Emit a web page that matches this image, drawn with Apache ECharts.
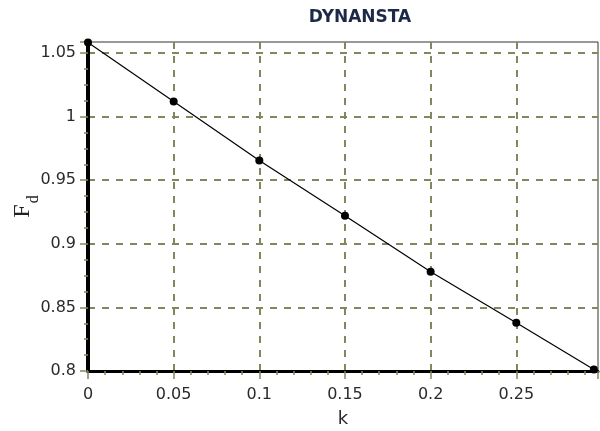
<!DOCTYPE html>
<html>
<head>
<meta charset="utf-8">
<script src="https://cdn.jsdelivr.net/npm/echarts@6/dist/echarts.min.js"></script>
<style>
  html, body { margin: 0; padding: 0; background: #fff; }
  #chart { width: 600px; height: 431px; }
</style>
</head>
<body>
<div id="chart"></div>
<script>
// Dynamic stability factor F_d against k
const kValues = [0, 0.05, 0.1, 0.15, 0.2, 0.25, 0.2953];
const fdValues = [1.0584, 1.012, 0.9655, 0.922, 0.878, 0.838, 0.8011];
const xTicks = [0, 0.05, 0.1, 0.15, 0.2, 0.25];
const yTicks = [0.8, 0.85, 0.9, 0.95, 1, 1.05];

const gridColor = '#86865e';
const labelColor = '#2a2a2a';

const chart = echarts.init(document.getElementById('chart'), null, { renderer: 'canvas' });

chart.setOption({
  animation: false,
  title: {
    text: 'DYNANSTA',
    left: 355,
    textAlign: 'center',
    top: 4,
    textStyle: { fontFamily: 'DejaVu Sans', fontWeight: 'bold', fontSize: 17, color: '#1c2a48' }
  },
  grid: {
    left: 88, right: 2, top: 42, bottom: 60,
    outerBoundsMode: 'none',
    containLabel: false,
    show: true, borderColor: '#333', borderWidth: 1, backgroundColor: 'transparent'
  },
  xAxis: {
    type: 'value',
    min: 0,
    max: 0.2977,
    interval: 0.05,
    name: 'k',
    nameLocation: 'middle',
    nameGap: 39,
    nameMoveOverlap: false,
    nameTextStyle: { fontFamily: 'DejaVu Sans', fontSize: 18, color: labelColor },
    axisLine: { show: true, onZero: false, lineStyle: { color: '#000', width: 3 } },
    axisTick: { show: true, length: 8, lineStyle: { color: gridColor, width: 1.5 } },
    minorTick: { show: true, splitNumber: 5, length: 4, lineStyle: { color: gridColor, width: 1.5 } },
    axisLabel: {
      margin: 16, showMaxLabel: false,
      fontFamily: 'DejaVu Sans', fontSize: 16, color: labelColor,
      formatter: v => xTicks.some(t => Math.abs(t - v) < 1e-9) ? String(+v.toFixed(4)) : ''
    },
    splitLine: { show: true, showMaxLine: false, lineStyle: { color: gridColor, width: 2, type: [7, 7] } }
  },
  yAxis: {
    type: 'value',
    min: 0.8,
    max: 1.0587,
    interval: 0.05,
    name: '{f|F}{d|d}',
    nameLocation: 'middle',
    nameRotate: 90,
    nameGap: 53,
    nameMoveOverlap: false,
    nameTextStyle: {
      rich: {
        f: { fontFamily: 'Liberation Serif', fontSize: 24, color: '#222', verticalAlign: 'bottom' },
        d: { fontFamily: 'Liberation Serif', fontSize: 16, color: '#222', verticalAlign: 'bottom', padding: [0, 0, -7, 1] }
      }
    },
    axisLine: { show: true, onZero: false, lineStyle: { color: '#000', width: 4 } },
    axisTick: { show: true, length: 8, lineStyle: { color: gridColor, width: 1.5 } },
    minorTick: { show: true, splitNumber: 4, length: 4, lineStyle: { color: gridColor, width: 1.5 } },
    axisLabel: {
      margin: 12, showMaxLabel: false,
      fontFamily: 'DejaVu Sans', fontSize: 16, color: labelColor,
      formatter: v => yTicks.some(t => Math.abs(t - v) < 1e-9) ? String(+v.toFixed(4)) : ''
    },
    splitLine: { show: true, showMaxLine: false, lineStyle: { color: gridColor, width: 2, type: [7, 7] } }
  },
  series: [{
    type: 'line',
    data: kValues.map((k, i) => [k, fdValues[i]]),
    clip: false,
    symbol: 'circle',
    symbolSize: 8,
    itemStyle: { color: '#000' },
    lineStyle: { color: '#000', width: 1.2 },
    z: 5
  }]
});
</script>
</body>
</html>
